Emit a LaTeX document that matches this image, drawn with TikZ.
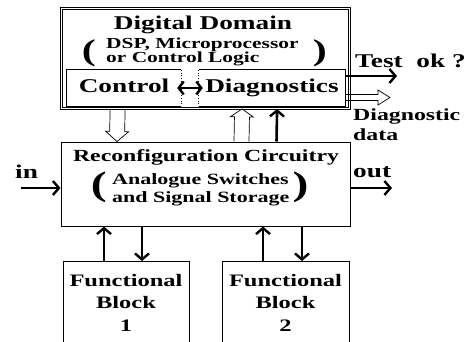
\documentclass[tikz,border=0pt]{standalone}
\usepackage{fontspec}
\setmainfont{Liberation Serif}[FakeStretch=1.4]
\usetikzlibrary{arrows.meta, calc, positioning}

% open block arrow: tail, tip, shaft half width, head half width, head length
\newcommand{\openarrow}[5]{%
  \draw[hollow] let \p1=(#1), \p2=(#2),
      \n1={veclen(\x2-\x1,\y2-\y1)}, \n2={atan2(\y2-\y1,\x2-\x1)} in
    ($(\p1)+(\n2+90:#3)$) -- ++(\n2:\n1-#5) -- ++(\n2+90:#4-#3) -- (\p2)
    -- ($(\p2)+(\n2+180:#5)+(\n2-90:#4)$) -- ++(\n2+90:#4-#3) -- ++(\n2+180:\n1-#5);}

\tikzset{
  block/.style={draw, line width=1pt, inner sep=0pt},
  lbl/.style={font=\bfseries, inner sep=0pt},
  paren/.style={inner sep=0pt, text height=13pt, text depth=5pt},
  barb/.tip={Straight Barb[length=6pt, width=14pt, line width=2.4pt]},
  sig/.style={line width=2.6pt, -barb},
  hollow/.style={line width=0.7pt},
}

\begin{document}
\begin{tikzpicture}[x=1pt, y=-1pt]
  \clip (0,0) rectangle (465,341);
  % digital domain
  \node[block, line width=0.8pt, double, double distance=1.2pt, minimum width=288, minimum height=100] (dig) at (205.5,58.5) {};
  \node[lbl, font=\bfseries\fontsize{19.5}{20}\selectfont, anchor=base] (digname) at (203,29) {Digital Domain};
  \node[lbl, font=\bfseries\fontsize{15.3}{14.4}\selectfont, align=left, anchor=west] (digsub) at (106,52)
    {DSP, Microprocessor\\or Control Logic};
  \node[paren, font=\bfseries\fontsize{30}{30}\selectfont, left=10pt of digsub, yshift=-4pt] (diglp) {(};
  \node[paren, font=\bfseries\fontsize{30}{30}\selectfont, right=14pt of digsub, yshift=-4pt] (digrp) {)};
  \node[lbl, font=\bfseries\fontsize{19.5}{20}\selectfont, minimum width=114, minimum height=36, text depth=4pt] (ctl) at (124,88) {Control};
  \node[lbl, font=\bfseries\fontsize{19.5}{20}\selectfont, minimum width=146, minimum height=36, text depth=4pt] (diag) at (272,88) {Diagnostics};
  \draw[line width=0.8pt] (ctl.north east) -- (ctl.north west) -- (ctl.south west) -- (ctl.south east);
  \draw[line width=0.8pt, dotted] (ctl.north east) -- (ctl.south east);
  \draw[line width=0.8pt] (diag.north west) -- (diag.north east) -- (diag.south east) -- (diag.south west);
  \draw[line width=0.8pt, dotted] (diag.north west) -- (diag.south west);
  \draw[line width=2.6pt, {Straight Barb[length=5pt, width=13pt, line width=2.4pt]}-{Straight Barb[length=5pt, width=13pt, line width=2.4pt]},
    shorten <=-4pt, shorten >=-4pt] (ctl.east) -- (diag.west);

  % reconfiguration circuitry
  \node[block, minimum width=289, minimum height=84] (rec) at (205.5,184) {};
  \node[lbl, font=\bfseries\fontsize{17}{17}\selectfont, anchor=base] (recname) at (206,161) {Reconfiguration Circuitry};
  \node[lbl, font=\bfseries\fontsize{15.7}{18.5}\selectfont, align=left, anchor=west] (recsub) at (112,190)
    {Analogue Switches\\and Signal Storage};
  \node[paren, font=\bfseries\fontsize{34}{34}\selectfont, text height=16pt, text depth=6pt, left=5pt of recsub] (reclp) {(};
  \node[paren, font=\bfseries\fontsize{34}{34}\selectfont, text height=16pt, text depth=6pt, right=3pt of recsub] (recrp) {)};

  % functional blocks
  \node[block, align=center, font=\bfseries\fontsize{17.5}{22.5}\selectfont, minimum width=126, minimum height=82, anchor=north] (fb1) at (126,261) {Functional\\Block\\1};
  \node[block, align=center, font=\bfseries\fontsize{17.5}{22.5}\selectfont, minimum width=127, minimum height=82, anchor=north] (fb2) at (285.5,261) {Functional\\Block\\2};

  % signals
  \coordinate (inp) at (21,188);
  \coordinate (outp) at (392,188);
  \coordinate (okp) at (397,76);
  \coordinate (ddp) at (390,97.5);
  \draw[sig] (inp) -- (inp -| rec.west);
  \draw[sig] (outp -| rec.east) -- (outp);
  \draw[sig] (okp -| diag.east) -- (okp);
  \draw[sig] ([xshift=216]rec.north west) -- ([xshift=216]dig.south west);
  \openarrow{[xshift=56.5]dig.south west}{[xshift=56.5]rec.north west}{7.5pt}{11.5pt}{10pt}
  \openarrow{[xshift=181]rec.north west}{[xshift=181]dig.south west}{7.5pt}{11.5pt}{8pt}
  \openarrow{ddp -| diag.east}{ddp}{3pt}{7.5pt}{12pt}
  \draw[sig] ($(fb1.north)+(-22,0)$) -- ($(fb1.north |- rec.south)+(-22,0)$);
  \draw[sig] ($(fb1.north |- rec.south)+(16,0)$) -- ($(fb1.north)+(16,0)$);
  \draw[sig] ($(fb2.north)+(-22.5,0)$) -- ($(fb2.north |- rec.south)+(-22.5,0)$);
  \draw[sig] ($(fb2.north |- rec.south)+(16.5,0)$) -- ($(fb2.north)+(16.5,0)$);

  % labels on the outside
  \node[lbl, font=\bfseries\fontsize{19.5}{20}\selectfont, anchor=base west] (oktxt) at (355,67) {Test\ \ ok\ ?};
  \node[lbl, font=\bfseries\fontsize{17}{20}\selectfont, anchor=north west, align=left] (ddtxt) at (353,108) {Diagnostic\\data};
  \node[lbl, font=\bfseries\fontsize{19.5}{20}\selectfont, anchor=base west] (intxt) at (15,178) {in};
  \node[lbl, font=\bfseries\fontsize{19.5}{20}\selectfont, anchor=base west] (outtxt) at (353,177) {out};
\end{tikzpicture}
\end{document}
